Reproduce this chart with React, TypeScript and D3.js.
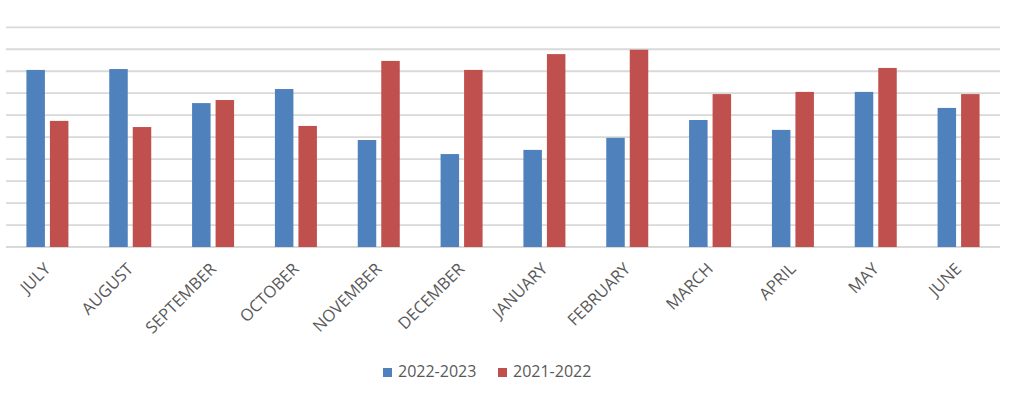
import React from "react";
import * as d3 from "d3";

const months = ["JULY", "AUGUST", "SEPTEMBER", "OCTOBER", "NOVEMBER", "DECEMBER", "JANUARY", "FEBRUARY", "MARCH", "APRIL", "MAY", "JUNE"];
const seriesNames = ["2022-2023", "2021-2022"];
const values2022_2023 = [8.06, 8.1, 6.55, 7.19, 4.87, 4.23, 4.42, 4.97, 5.78, 5.33, 7.06, 6.33];
const values2021_2022 = [5.74, 5.46, 6.69, 5.51, 8.47, 8.06, 8.78, 8.98, 6.96, 7.06, 8.15, 6.96];
const gridTicks = [0, 1, 2, 3, 4, 5, 6, 7, 8, 9, 10];
const colors = ["#4F81BD", "#C0504D"];

const W = 1012;
const H = 393;
const left = 6;
const right = 1000;
const top = 27.3;
const bottom = 247;

export default function App() {
  const x0 = d3.scaleBand<string>().domain(months).range([left, right]).paddingInner(0).paddingOuter(0);
  const bw = x0.bandwidth();
  const x1 = d3.scaleBand<string>().domain(seriesNames).range([bw / 2 - 21, bw / 2 + 21]).paddingInner(0.213).paddingOuter(0);
  const y = d3.scaleLinear().domain([0, 10]).range([bottom, top]);
  const data = [values2022_2023, values2021_2022];
  const font = "'Open Sans', sans-serif";

  return (
    <svg width={W} height={H} style={{ position: "absolute", left: 0, top: 0, background: "#fff" }}>
      <rect width={W} height={H} fill="#fff" />
      {gridTicks.map((t) => (
        <line key={t} x1={left} x2={right} y1={y(t)} y2={y(t)} stroke="#D9D9D9" strokeWidth={1.8} />
      ))}
      {months.map((m, i) => (
        <g key={m} transform={`translate(${x0(m)},0)`}>
          {seriesNames.map((s, j) => (
            <rect key={s} x={x1(s)} y={y(data[j][i])} width={x1.bandwidth()} height={y(0) - y(data[j][i])} fill={colors[j]} />
          ))}
        </g>
      ))}
      {months.map((m) => {
        const cx = (x0(m) as number) + bw / 2 + 4;
        const cy = bottom + 23;
        return (
          <text key={m} x={cx} y={cy} transform={`rotate(-45 ${cx} ${cy})`} textAnchor="end" fontFamily={font} fontSize={16.5} fill="#595959">
            {m}
          </text>
        );
      })}
      {seriesNames.map((s, j) => {
        const lx = [383, 498][j];
        return (
          <g key={s}>
            <rect x={lx} y={368} width={9} height={9} fill={colors[j]} />
            <text x={lx + 15} y={377} fontFamily={font} fontSize={16} fill="#595959">{s}</text>
          </g>
        );
      })}
    </svg>
  );
}
